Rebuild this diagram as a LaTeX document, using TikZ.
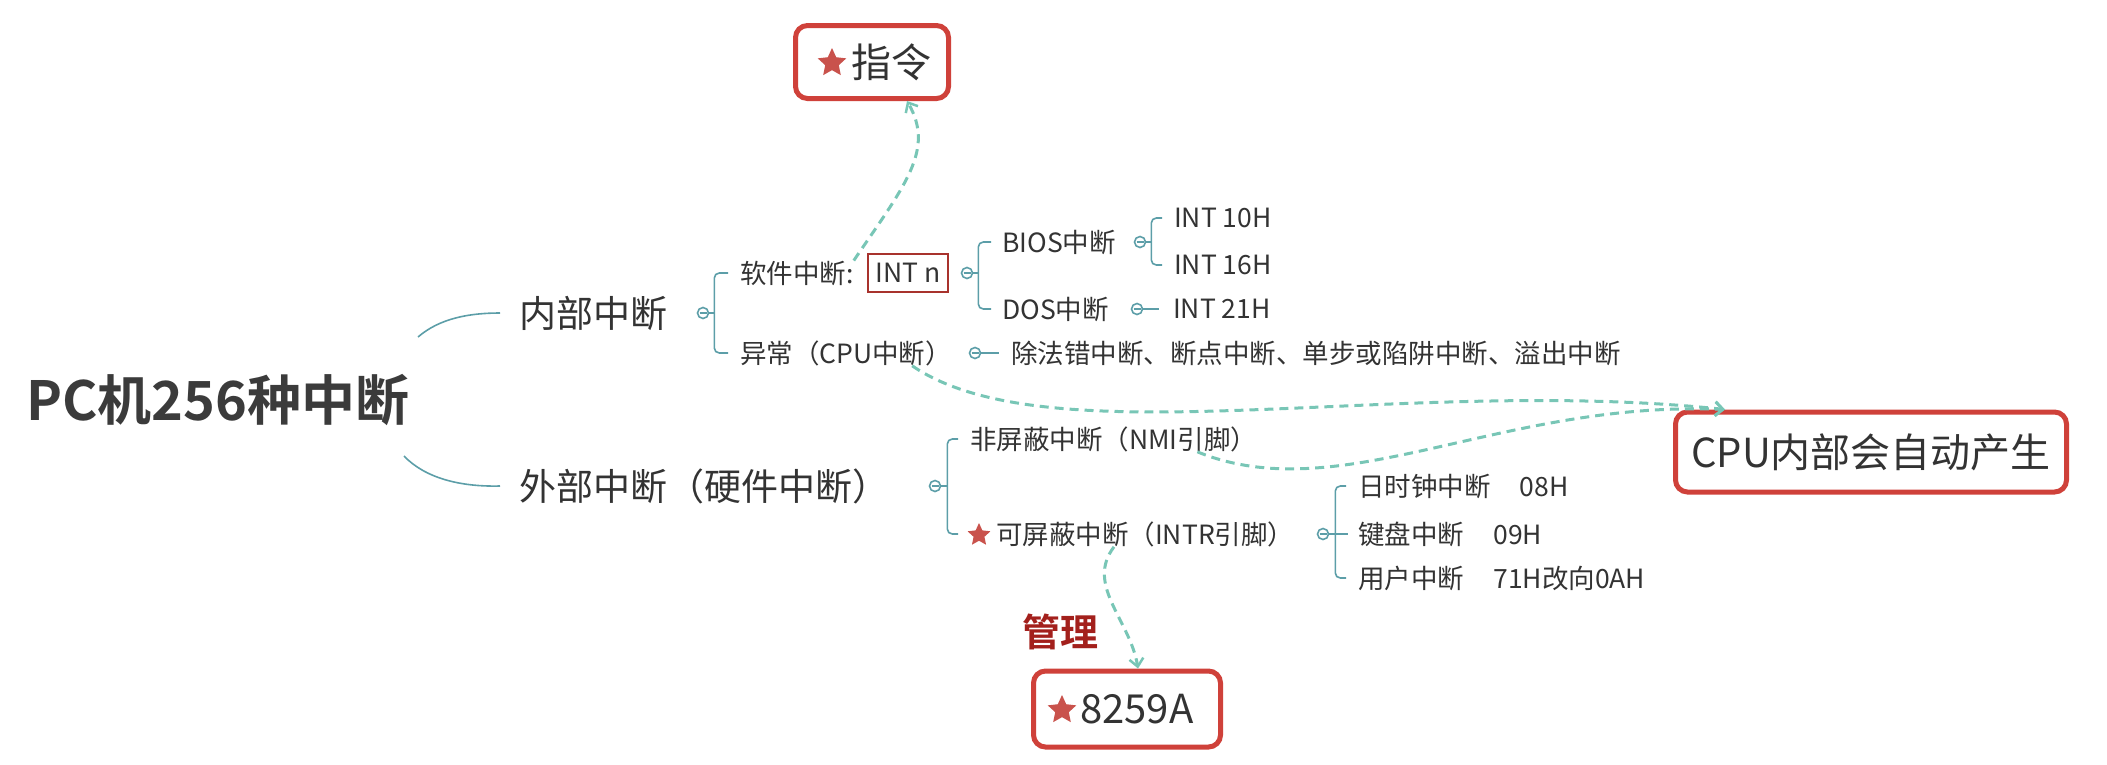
\documentclass[tikz,border=0pt]{standalone}
\usepackage{fontspec}
\setmainfont{Noto Sans CJK SC}[BoldFont={Noto Sans CJK SC Bold}]
\usetikzlibrary{arrows.meta,shapes.geometric}
\definecolor{textc}{HTML}{333333}
\definecolor{rootc}{HTML}{3B3B3B}
\definecolor{linec}{HTML}{5C9EA8}
\definecolor{dashc}{HTML}{78C6B6}
\definecolor{boxred}{HTML}{CF413A}
\definecolor{starred}{HTML}{C9524C}
\definecolor{intred}{HTML}{A8322D}
\definecolor{handred}{HTML}{A3201C}
\begin{document}
\begin{tikzpicture}[x=1pt,y=-1pt,
  rootn/.style={inner sep=0, text=rootc, font=\fontsize{54}{60}\selectfont\bfseries},
  lone/.style={inner sep=0, anchor=west, text=textc, font=\fontsize{37}{42}\selectfont},
  ltwo/.style={inner sep=0, anchor=west, text=textc, font=\fontsize{26.5}{30}\selectfont},
  circ/.style={circle, draw=linec, line width=1.6, fill=white, minimum size=11, inner sep=0,
    path picture={\draw[linec, line width=1.3] ([xshift=-3.5]path picture bounding box.center) -- ([xshift=3.5]path picture bounding box.center);}},
  br/.style={draw=linec, line width=1.6},
  brc/.style={draw=linec, line width=1.6, rounded corners=5},
  intbox/.style={draw=intred, line width=2.5, inner sep=0, minimum width=80, minimum height=38, text=textc, font=\fontsize{26.5}{30}\selectfont},
  box/.style={draw=boxred, line width=5, rounded corners=12, fill=white, inner sep=0},
  boxtxt/.style={inner sep=0, text=textc, font=\fontsize{40}{44}\selectfont},
  starn/.style={star, star points=5, star point ratio=2.1, fill=starred, draw=none, inner sep=0},
  dasharr/.style={draw=dashc, line width=3, dash pattern=on 9 off 6, -{Straight Barb[length=8,width=14,line width=2.5]}},
  hand/.style={inner sep=0, text=handred, font=\fontsize{38}{42}\selectfont\bfseries}
]
\useasboundingbox (0,0) rectangle (2107,764);

% root and level 1
\node[rootn] (root) at (218,400) {PC机256种中断};
\node[lone] (n1) at (519,313) {内部中断};
\node[lone] (n2) at (519,486) {外部中断（硬件中断）};
\coordinate (r1) at (418,337);
\coordinate (r2) at (404,456);
\draw[br] (r1) .. controls (440,318) and (470,313) .. ([xshift=-19]n1.west);
\draw[br] (r2) .. controls (425,478) and (460,487) .. ([xshift=-19]n2.west);

% internal branch
\node[circ] (c1) at (703,313) {};
\node[ltwo] (n11) at (740,273) {软件中断:};
\node[intbox] (intn) at (908,273) {INT n};
\node[ltwo] (n12) at (740,353) {异常（CPU中断）};
\draw[br] (c1.east) -- ++(5,0);
\draw[brc] ([xshift=-12]n11.west) -| ([xshift=5]c1.east) |- ([xshift=-12]n12.west);

\node[circ] (c11) at (967,273) {};
\node[ltwo] (bios) at (1002,242) {BIOS中断};
\node[ltwo] (dos) at (1002,309) {DOS中断};
\draw[br] (c11.east) -- ++(5,0);
\draw[brc] ([xshift=-11]bios.west) -| ([xshift=5]c11.east) |- ([xshift=-11]dos.west);

\node[circ] (c111) at (1140,242) {};
\node[ltwo] (i10) at (1174,218) {INT 10H};
\node[ltwo] (i16) at (1174,265) {INT 16H};
\draw[br] (c111.east) -- ++(5,0);
\draw[brc] ([xshift=-12]i10.west) -| ([xshift=5]c111.east) |- ([xshift=-12]i16.west);

\node[circ] (c112) at (1137,309) {};
\node[ltwo] (i21) at (1173,309) {INT 21H};
\draw[br] (c112.east) -- ([xshift=-14]i21.west);

\node[circ] (c12) at (975,353) {};
\node[ltwo] (exc) at (1011,353) {除法错中断、断点中断、单步或陷阱中断、溢出中断};
\draw[br] (c12.east) -- ([xshift=-12]exc.west);

% external branch
\node[circ] (c2) at (935,486) {};
\node[ltwo] (n21) at (970,439) {非屏蔽中断（NMI引脚）};
\node[ltwo] (n22) at (996,534) {可屏蔽中断（INTR引脚）};
\node[starn, minimum size=24] (s22) at (979,535) {};
\draw[br] (c2.east) -- ++(6,0);
\draw[brc] ([xshift=-12]n21.west) -| ([xshift=6]c2.east) |- ([xshift=-38]n22.west);

\node[circ] (c22) at (1323,534) {};
\node[ltwo] (k1) at (1358,486) {日时钟中断\hspace{1.1em}08H};
\node[ltwo] (k2) at (1358,534) {键盘中断\hspace{1.1em}09H};
\node[ltwo] (k3) at (1358,578) {用户中断\hspace{1.1em}71H改向0AH};
\draw[br] (c22.east) -- ([xshift=-10]k2.west);
\draw[brc] ([xshift=-12]k1.west) -| ([xshift=6]c22.east) |- ([xshift=-12]k3.west);

% boxes
\node[box, minimum width=153, minimum height=73] (b1) at (872,62) {};
\node[starn, minimum size=30] (s1) at (832,63) {};
\node[boxtxt, anchor=west] (t1) at (851,62) {指令};

\node[box, minimum width=391, minimum height=80, boxtxt] (b2) at (1871,452) {CPU内部会自动产生};

\node[box, minimum width=187, minimum height=76] (b3) at (1127,709) {};
\node[starn, minimum size=30] (s3) at (1062,710) {};
\node[boxtxt, anchor=west] (t3) at (1080,709) {8259A};

\node[hand] (gl) at (1060,632) {管理};

% dashed arrows
\draw[dasharr] (n11.north east) .. controls (905,185) and (935,150) .. ([xshift=35]b1.south);
\draw[dasharr] ([xshift=-40]n12.south east) .. controls (1050,460) and (1400,375) .. ([xshift=52]b2.north west);
\draw[dasharr] ([xshift=-60]n21.south east) .. controls (1340,510) and (1500,400) .. ([xshift=52]b2.north west);
\draw[dasharr] ([xshift=118]n22.south west) .. controls (1085,585) and (1130,620) .. ([xshift=11]b3.north);
\end{tikzpicture}
\end{document}
